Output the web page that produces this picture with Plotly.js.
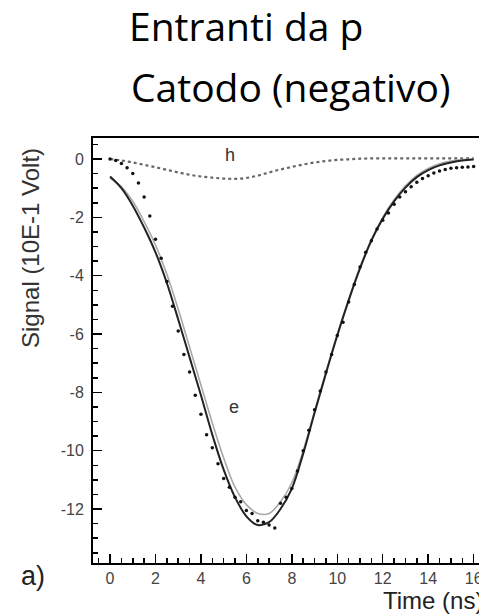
<!DOCTYPE html>
<html>
<head>
<meta charset="utf-8">
<script src="https://cdn.plot.ly/plotly-3.0.1.min.js"></script>
<style>
html, body { margin: 0; padding: 0; overflow: hidden; background: #fff; width: 479px; height: 615px; }
#chart { width: 500px; height: 615px; }
</style>
</head>
<body>
<div id="chart"></div>
<script>
// Time grid for the simulated curves (ns)
const timeLines = [0,0.5,1,1.5,2,2.5,3,3.5,4,4.5,5,5.5,6,6.5,7,7.5,8,8.5,9,9.5,10,10.5,11,11.5,12,12.5,13,13.5,14,14.5,15,15.5,16];
// Electron signal, dark curve (10E-1 V)
const eCurveDark = [-0.6,-1.0,-1.6,-2.35,-3.2,-4.25,-5.5,-6.8,-8.1,-9.45,-10.65,-11.6,-12.25,-12.55,-12.45,-12.0,-11.3,-10.1,-8.7,-7.35,-6.05,-4.85,-3.75,-2.8,-2.05,-1.45,-0.98,-0.62,-0.38,-0.22,-0.12,-0.05,-0.02];
// Electron signal, light curve
const eCurveLight = [-0.65,-0.95,-1.45,-2.15,-2.95,-3.95,-5.15,-6.45,-7.75,-9.05,-10.25,-11.25,-11.85,-12.15,-12.15,-11.75,-11.1,-10.0,-8.65,-7.3,-6.0,-4.8,-3.7,-2.75,-2.0,-1.4,-0.92,-0.56,-0.32,-0.16,-0.07,-0.02,0.0];
// Hole signal (dotted)
const hSignal = [0,-0.05,-0.12,-0.2,-0.28,-0.37,-0.46,-0.54,-0.6,-0.64,-0.67,-0.68,-0.65,-0.57,-0.46,-0.36,-0.27,-0.19,-0.12,-0.07,-0.03,-0.01,0.01,0.02,0.02,0.02,0.02,0.02,0.02,0.02,0.02,0.02,0.02];
// Time grid for the electron data points
const timeDots = [0,0.25,0.5,0.75,1,1.25,1.5,1.75,2,2.25,2.5,2.75,3,3.25,3.5,3.75,4,4.25,4.5,4.75,5,5.25,5.5,5.75,6,6.25,6.5,6.75,7,7.25,7.5,7.75,8,8.25,8.5,8.75,9,9.25,9.5,9.75,10,10.25,10.5,10.75,11,11.25,11.5,11.75,12,12.25,12.5,12.75,13,13.25,13.5,13.75,14,14.25,14.5,14.75,15,15.25,15.5,15.75,16];
const eDots = [0.0,-0.05,-0.15,-0.3,-0.5,-0.82,-1.3,-1.95,-2.75,-3.4,-4.2,-5.05,-5.9,-6.7,-7.3,-8.1,-8.75,-9.45,-9.9,-10.45,-10.95,-11.25,-11.6,-11.75,-12.05,-12.15,-12.4,-12.45,-12.55,-12.65,-11.8,-11.6,-11.3,-10.7,-10.0,-9.3,-8.6,-7.95,-7.3,-6.7,-6.05,-5.6,-4.9,-4.3,-3.7,-3.2,-2.8,-2.4,-2.1,-1.85,-1.55,-1.3,-1.12,-0.95,-0.8,-0.67,-0.57,-0.48,-0.41,-0.36,-0.32,-0.3,-0.28,-0.27,-0.26];
// Axis tick values
const xTicks = [0,2,4,6,8,10,12,14,16];
const yTicks = [0,-2,-4,-6,-8,-10,-12];

const traces = [
  {x: timeLines, y: hSignal, mode: 'lines', line: {color: '#666', width: 2.2, dash: 'dot', shape: 'spline'}, name: 'h'},
  {x: timeLines, y: eCurveLight, mode: 'lines', line: {color: '#a8a8a8', width: 1.6, shape: 'spline'}, name: 'e light'},
  {x: timeLines, y: eCurveDark, mode: 'lines', line: {color: '#222', width: 2, shape: 'spline'}, name: 'e dark'},
  {x: timeDots, y: eDots, mode: 'markers', marker: {color: '#111', size: 3.5}, name: 'e data'}
];

const tickFont = {family: 'Liberation Sans, Arial, sans-serif', size: 16, color: '#444'};
const layout = {
  width: 500, height: 615,
  margin: {l: 93, r: 15, t: 138, b: 52},
  paper_bgcolor: '#fff', plot_bgcolor: '#fff',
  showlegend: false,
  title: {text: 'Entranti da p', font: {family: 'Open Sans, sans-serif', size: 39, color: '#000'},
          xref: 'container', x: 129/500, xanchor: 'left', yref: 'container', y: 1 - 27/615, yanchor: 'middle'},
  xaxis: {range: [-0.75, 16.5], tickvals: xTicks, ticktext: xTicks.map(String), ticks: 'inside', ticklen: 9, tickwidth: 1.5,
          tickcolor: '#000', showline: true, linecolor: '#000', linewidth: 2, mirror: true, showgrid: false, zeroline: false,
          tickfont: tickFont, minor: {dtick: 0.5, tick0: 0, ticks: 'inside', ticklen: 5, tickwidth: 1.5, tickcolor: '#000', showgrid: false}},
  yaxis: {range: [-13.85, 0.72], tickvals: yTicks, ticktext: yTicks.map(String), ticks: 'inside', ticklen: 9, tickwidth: 1.5,
          tickcolor: '#000', showline: true, linecolor: '#000', linewidth: 2, mirror: true, showgrid: false, zeroline: false,
          ticklabelstandoff: 4,
          tickfont: tickFont, minor: {dtick: 0.5, tick0: 0, ticks: 'inside', ticklen: 5, tickwidth: 1.5, tickcolor: '#000', showgrid: false}},
  annotations: [
    {text: 'Catodo (negativo)', xref: 'paper', yref: 'paper', x: (129-93)/392, y: (563-87)/425, xanchor: 'left', yanchor: 'middle',
     showarrow: false, font: {family: 'Open Sans, sans-serif', size: 39, color: '#000'}},
    {text: 'Signal (10E-1 Volt)', xref: 'paper', yref: 'paper', x: (30-93)/392, y: (563-248)/425, xanchor: 'center', yanchor: 'middle',
     textangle: -90, showarrow: false, font: {family: 'Liberation Sans, Arial, sans-serif', size: 24, color: '#333'}},
    {text: 'Time (ns)', xref: 'paper', yref: 'paper', x: (381-93)/392, y: (563-600)/425, xanchor: 'left', yanchor: 'middle',
     showarrow: false, font: {family: 'Liberation Sans, Arial, sans-serif', size: 24, color: '#222'}},
    {text: 'a)', xref: 'paper', yref: 'paper', x: (33-93)/392, y: (563-576)/425, xanchor: 'center', yanchor: 'middle',
     showarrow: false, font: {family: 'Liberation Sans, Arial, sans-serif', size: 27, color: '#222'}},
    {text: 'h', xref: 'x', yref: 'y', x: 5.27, y: 0.15, showarrow: false, font: {family: 'Liberation Sans, Arial, sans-serif', size: 18, color: '#333'}},
    {text: 'e', xref: 'x', yref: 'y', x: 5.45, y: -8.5, showarrow: false, font: {family: 'Liberation Sans, Arial, sans-serif', size: 18, color: '#333'}}
  ]
};

Plotly.newPlot('chart', traces, layout, {staticPlot: true, displayModeBar: false});
</script>
</body>
</html>
